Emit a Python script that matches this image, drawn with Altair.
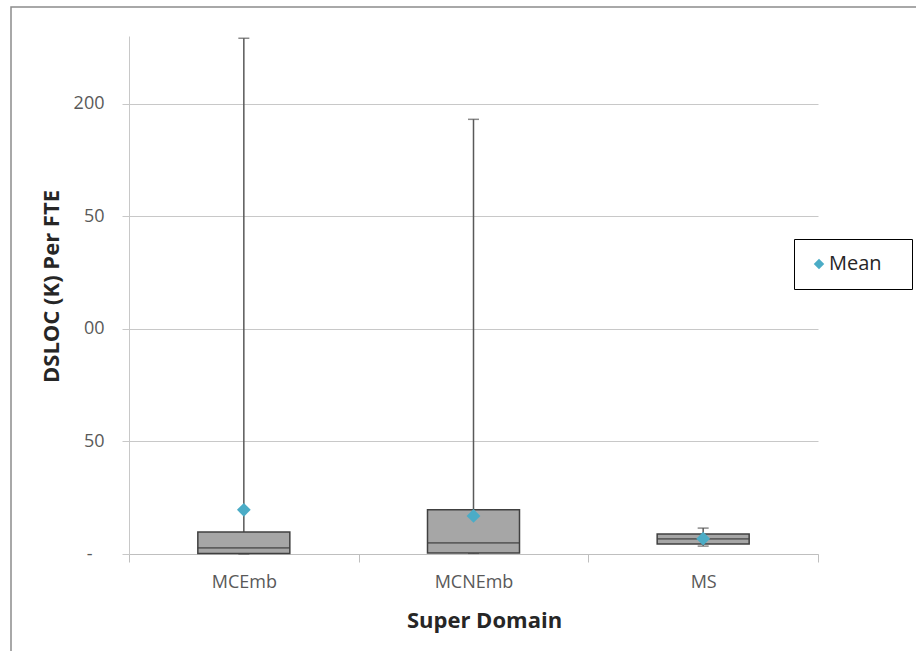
import altair as alt
import pandas as pd

# Box-plot summary per super domain (DSLOC in thousands per FTE)
categories = ["MCEmb", "MCNEmb", "MS"]
whisker_low = [0.0, 0.3, 3.5]
q1 = [0.2, 0.4, 4.4]
median = [2.7, 4.9, 6.7]
q3 = [9.8, 19.6, 8.9]
whisker_high = [229.0, 193.0, 11.5]
mean = [19.6, 16.9, 6.8]

y_ticks = [0, 50, 100, 150, 200]

df = pd.DataFrame({
    "domain": categories,
    "low": whisker_low,
    "q1": q1,
    "median": median,
    "q3": q3,
    "high": whisker_high,
    "mean": mean,
    "series": ["Mean"] * len(categories),
})

FONT = "Open Sans"
GRID = "#c8c8c8"
TEXT = "#595959"

x_enc = alt.X(
    "domain:N",
    sort=categories,
    scale=alt.Scale(paddingInner=0, paddingOuter=0),
    axis=alt.Axis(
        title="Super Domain",
        labelAngle=0,
        tickBand="extent",
        grid=False,
        domainColor="#bfbfbf",
        tickColor="#bfbfbf",
        tickSize=8,
        labelPadding=11,
        labelFontSize=18,
        labelColor=TEXT,
        labelFont=FONT,
        titleFont=FONT,
        titleFontSize=22,
        titleFontWeight="bold",
        titleColor="#262626",
        titlePadding=19,
        titleX=355,
        titleAlign="center",
    ),
)

y_scale = alt.Scale(domain=[0, 230], nice=False, zero=True)

base = alt.Chart(df).encode(x=x_enc)

whiskers = base.mark_rule(color="#595959", strokeWidth=1.5).encode(
    y=alt.Y(
        "low:Q",
        scale=y_scale,
        axis=alt.Axis(
            title="DSLOC (K) Per FTE",
            values=y_ticks,
            labelExpr=(
                "datum.value == 0 ? '-' : "
                "datum.value == 100 ? '00' : "
                "datum.value == 150 ? '50' : datum.label"
            ),
            grid=True,
            gridColor=GRID,
            domainColor=GRID,
            tickColor=GRID,
            tickSize=7,
            labelPadding={
                "condition": {"test": "datum.value == 0", "value": 30},
                "value": 18,
            },
            labelFontSize=18,
            labelColor=TEXT,
            labelFont=FONT,
            titleFont=FONT,
            titleFontSize=22,
            titleFontWeight="bold",
            titleColor="#262626",
            titlePadding=10,
            titleY=250,
        ),
    ),
    y2="high:Q",
)

caps_high = base.mark_tick(color="#595959", size=11, thickness=1.5).encode(
    y=alt.Y("high:Q", scale=y_scale)
)
caps_low = base.mark_tick(color="#595959", size=11, thickness=1.5).encode(
    y=alt.Y("low:Q", scale=y_scale)
)

boxes = base.mark_bar(
    size=92, fill="#a6a6a6", stroke="#404040", strokeWidth=1.5
).encode(
    y=alt.Y("q1:Q", scale=y_scale),
    y2="q3:Q",
)

medians = base.mark_tick(color="#404040", size=92, thickness=1.8).encode(
    y=alt.Y("median:Q", scale=y_scale)
)

means = base.mark_point(shape="diamond", filled=True, size=190, opacity=1).encode(
    y=alt.Y("mean:Q", scale=y_scale),
    color=alt.Color(
        "series:N",
        scale=alt.Scale(domain=["Mean"], range=["#4bacc6"]),
        legend=alt.Legend(
            title=None,
            orient="none",
            legendX=665,
            legendY=203,
            strokeColor="#000000",
            padding=15,
            symbolType="diamond",
            symbolSize=110,
            symbolOffset=0,
            labelOffset=0,
            labelExpr="datum.label + '\u2800'",
            labelFontSize=20,
            labelFont=FONT,
            labelColor="#262626",
        ),
    ),
)

# outer chart frame (left and top edges fall inside the page)
frame = alt.Chart(alt.Data(values=[{}])).mark_rect(
    fill="transparent", stroke="#8c8c8c", strokeWidth=1.5
).encode(
    x=alt.value(-118), x2=alt.value(900), y=alt.value(-29), y2=alt.value(700)
)

chart = alt.layer(
    frame, whiskers, caps_high, caps_low, boxes, medians, means
).properties(
    width=689,
    height=518,
    background="white",
    autosize=alt.AutoSizeParams(type="none"),
    padding={"left": 129, "top": 36, "right": 98, "bottom": 97},
).configure_view(stroke=None)

chart.save("out.html", embed_options={"renderer": "svg", "actions": False})
